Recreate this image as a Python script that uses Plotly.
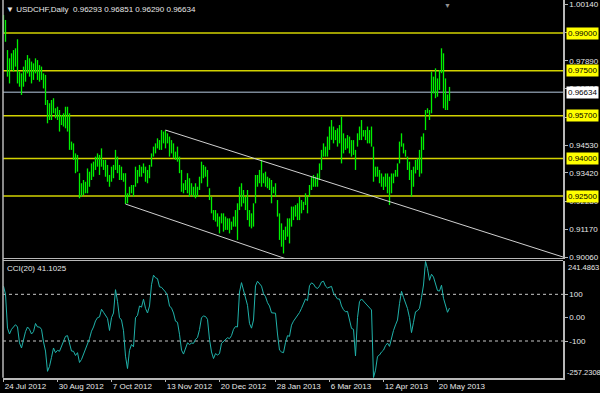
import plotly.graph_objects as go

# ---------------- data ----------------
bar_high = [
    0.9972, 0.9952, 0.9832, 0.9799, 0.9819, 0.9832, 0.9839, 0.9875, 0.9746, 0.9739,
    0.9766, 0.9792, 0.9812, 0.9799, 0.9786, 0.9779, 0.9799, 0.9792, 0.9772, 0.9766,
    0.9739, 0.9733, 0.9633, 0.9620, 0.9633, 0.9640, 0.9600, 0.9606, 0.9593, 0.9573,
    0.9580, 0.9606, 0.9606, 0.9580, 0.9467, 0.9460, 0.9420, 0.9414, 0.9341, 0.9301,
    0.9314, 0.9307, 0.9360, 0.9347, 0.9380, 0.9387, 0.9407, 0.9420, 0.9414, 0.9440,
    0.9394, 0.9394, 0.9374, 0.9334, 0.9367, 0.9374, 0.9434, 0.9407, 0.9374, 0.9367,
    0.9341, 0.9341, 0.9261, 0.9287, 0.9294, 0.9294, 0.9367, 0.9354, 0.9374, 0.9367,
    0.9380, 0.9367, 0.9354, 0.9374, 0.9420, 0.9447, 0.9460, 0.9480, 0.9473,
    0.9513, 0.9507, 0.9513, 0.9500, 0.9487, 0.9473, 0.9460, 0.9427, 0.9447, 0.9407,
    0.9354, 0.9301, 0.9314, 0.9341, 0.9321, 0.9301, 0.9287, 0.9301, 0.9287, 0.9327,
    0.9387, 0.9374, 0.9367, 0.9354, 0.9281, 0.9247, 0.9194, 0.9194, 0.9181, 0.9168,
    0.9181, 0.9181, 0.9168, 0.9161, 0.9161, 0.9148, 0.9168, 0.9194, 0.9221, 0.9287,
    0.9301, 0.9274, 0.9247, 0.9274, 0.9194, 0.9181, 0.9221, 0.9334, 0.9334, 0.9354,
    0.9394, 0.9341, 0.9347, 0.9327, 0.9321, 0.9314, 0.9287, 0.9301, 0.9234, 0.9181,
    0.9141, 0.9115, 0.9128, 0.9161, 0.9161, 0.9208, 0.9208, 0.9214, 0.9221, 0.9247,
    0.9234, 0.9227, 0.9261, 0.9247, 0.9294, 0.9327, 0.9334, 0.9327,
    0.9340, 0.9380, 0.9434, 0.9460, 0.9447, 0.9487, 0.9527, 0.9553, 0.9527, 0.9513,
    0.9520, 0.9533, 0.9566, 0.9500, 0.9480, 0.9493, 0.9487, 0.9473, 0.9473, 0.9434,
    0.9500, 0.9527, 0.9553, 0.9513, 0.9513, 0.9527, 0.9513, 0.9527, 0.9447, 0.9367,
    0.9367, 0.9354, 0.9340, 0.9327, 0.9340, 0.9340, 0.9327, 0.9340, 0.9340, 0.9354,
    0.9380, 0.9467, 0.9500, 0.9460, 0.9434, 0.9407, 0.9387, 0.9354, 0.9367, 0.9394,
    0.9400, 0.9434, 0.9487, 0.9500, 0.9593, 0.9600, 0.9593, 0.9746, 0.9726, 0.9759,
    0.9719, 0.9752, 0.9839, 0.9819, 0.9719, 0.9655, 0.96851,
]
bar_low = [
    0.9899, 0.9865, 0.9726, 0.9699, 0.9753, 0.9746, 0.9766, 0.9699, 0.9686, 0.9653,
    0.9686, 0.9706, 0.9739, 0.9726, 0.9699, 0.9713, 0.9739, 0.9713, 0.9706, 0.9713,
    0.9679, 0.9613, 0.9540, 0.9553, 0.9553, 0.9580, 0.9560, 0.9553, 0.9507, 0.9533,
    0.9527, 0.9520, 0.9507, 0.9434, 0.9434, 0.9394, 0.9341, 0.9347, 0.9241, 0.9248,
    0.9254, 0.9261, 0.9261, 0.9287, 0.9314, 0.9327, 0.9354, 0.9367, 0.9334, 0.9367,
    0.9354, 0.9327, 0.9307, 0.9287, 0.9307, 0.9321, 0.9354, 0.9341, 0.9314, 0.9314,
    0.9307, 0.9218, 0.9221, 0.9248, 0.9261, 0.9248, 0.9287, 0.9301, 0.9327, 0.9327,
    0.9341, 0.9307, 0.9301, 0.9321, 0.9367, 0.9407, 0.9420, 0.9440, 0.9434,
    0.9434, 0.9460, 0.9440, 0.9460, 0.9407, 0.9420, 0.9400, 0.9394, 0.9387, 0.9341,
    0.9267, 0.9261, 0.9274, 0.9261, 0.9247, 0.9254, 0.9247, 0.9241, 0.9247, 0.9274,
    0.9301, 0.9321, 0.9327, 0.9287, 0.9234, 0.9181, 0.9154, 0.9148, 0.9128, 0.9101,
    0.9141, 0.9108, 0.9115, 0.9115, 0.9101, 0.9115, 0.9128, 0.9128, 0.9075, 0.9194,
    0.9208, 0.9221, 0.9194, 0.9154, 0.9128, 0.9121, 0.9128, 0.9221, 0.9287, 0.9301,
    0.9287, 0.9301, 0.9287, 0.9281, 0.9274, 0.9221, 0.9261, 0.9247, 0.9168, 0.9075,
    0.9048, 0.9021, 0.9075, 0.9088, 0.9061, 0.9128, 0.9154, 0.9168, 0.9154, 0.9154,
    0.9181, 0.9194, 0.9214, 0.9181, 0.9247, 0.9274, 0.9287, 0.9287,
    0.9287, 0.9314, 0.9354, 0.9407, 0.9407, 0.9407, 0.9434, 0.9474, 0.9460, 0.9473,
    0.9447, 0.9460, 0.9380, 0.9420, 0.9434, 0.9440, 0.9420, 0.9407, 0.9414, 0.9354,
    0.9447, 0.9473, 0.9473, 0.9487, 0.9473, 0.9460, 0.9460, 0.9447, 0.9307, 0.9327,
    0.9327, 0.9301, 0.9287, 0.9274, 0.9287, 0.9261, 0.9214, 0.9261, 0.9301, 0.9327,
    0.9327, 0.9380, 0.9447, 0.9420, 0.9407, 0.9354, 0.9314, 0.9248, 0.9287, 0.9340,
    0.9354, 0.9327, 0.9340, 0.9434, 0.9513, 0.9580, 0.9553, 0.9580, 0.9659, 0.9640,
    0.9646, 0.9673, 0.9740, 0.9600, 0.9593, 0.9593, 0.96290,
]

# CCI(20), one value per bar
cci_value = [
    135, 100, -45, -70, -50, -40, -30, -40, -108, -130,
    -95, -60, -40, -50, -70, -60, -25, -40, -40, -50,
    -104, -143, -230, -209, -170, -130, -150, -140, -144, -120,
    -105, -80, -77, -108, -143, -144, -162, -150, -192, -179,
    -155, -140, -109, -90, -58, -40, -14, 0, 3, 36,
    23, 10, -3, -55, 0, 20, 120, 70, 0, -10,
    -56, -165, -218, -140, -115, -125, 0, 10, 50, 45,
    79, 40, 20, 50, 141, 182, 171, 167, 132, 130,
    121, 110, 94, 50, 41, 20, -15, -20, -71, -139,
    -156, -130, -108, -115, -109, -110, -93, -85, -51, 0,
    7, 5, -7, -93, -147, -175, -154, -160, -154, -110,
    -102, -95, -86, -90, -77, -50, -38, -40, 110, 150,
    120, 80, 53, -25, -45, -10, 136, 156, 144, 135,
    103, 90, 64, 50, 21, 20, 19, -70, -139, -147,
    -150, -107, -77, -80, -32, -15, -3, 5, 22, 40,
    59, 80, 73, 137, 149, 144, 130, 125, 135, 153,
    156, 135, 127, 132, 134, 105, 93, 80, 80, 50,
    34, 25, 27, -10, -46, -50, -164, 0, 69, 80,
    70, 60, 53, 40, 33, -257.2308, -225, -166, -160, -147,
    -139, -120, -109, -123, -83, -55, -31, -10, 60, 113,
    87, 65, 39, 0, -64, -20, 25, 30, 40, 87,
    140, 241.4863, 210, 160, 186, 174, 149, 116, 114, 139,
    83, 46, 23, 41.1025,
]

level_prices = [0.99000, 0.97500, 0.95700, 0.94000, 0.92500]
bid_price = 0.96634
price_tick_vals = [1.00140, 0.99030, 0.97890, 0.96780, 0.95640,
                   0.94530, 0.93420, 0.92280, 0.91170, 0.90060]
price_range = [0.90029, 1.00316]

date_tick_idx = [0, 27, 54, 81, 108, 136, 163, 190, 217]
date_tick_text = ["24 Jul 2012", "30 Aug 2012", "7 Oct 2012", "13 Nov 2012",
                  "20 Dec 2012", "28 Jan 2013", "6 Mar 2013", "12 Apr 2013",
                  "20 May 2013"]

cci_levels = [100, -100]
cci_tick_vals = [100, 0, -100]
cci_tick_text = ["100", "0.00", "-100"]
cci_max = 241.4863
cci_min = -257.2308

upper_line_idx = [81, 156]
upper_line_px = [0.9513, 0.9322]
lower_line_idx = [61, 140]
lower_line_px = [0.9218, 0.9003]

header_text = "USDCHF,Daily  0.96293 0.96851 0.96290 0.96634"
cci_label = "CCI(20) 41.1025"

# ---------------- figure ----------------
FONT = "Liberation Sans"
TXT = "#e8e8e8"
BORDER = "#b8b8b8"

W, H = 600, 393
ML, MR, MT, MB = 3, 37, 0, 15
PW = W - ML - MR  # 560
PH = H - MT - MB  # 378
main_dom = [(PH - 258) / PH, 1.0]
cci_dom = [(PH - 377.7) / PH, (PH - 261.3) / PH]
x_range = [-0.25, 279.75]


def px_x(px):
    return (px - ML) / PW


def px_y(py):
    return (PH - (py - MT)) / PH


fig = go.Figure()

# OHLC bars drawn as high-low strokes
bx, by = [], []
for i, (h, l) in enumerate(zip(bar_high, bar_low)):
    bx += [i, i, None]
    by += [l, h, None]
fig.add_trace(go.Scatter(x=bx, y=by, mode="lines", xaxis="x", yaxis="y",
                         line=dict(color="#00f000", width=1.3),
                         hoverinfo="skip", showlegend=False))


# trend lines (rays extended to the right)
def ray(idx, px, end=285):
    s = (px[1] - px[0]) / (idx[1] - idx[0])
    return [idx[0], end], [px[0], px[0] + s * (end - idx[0])]


for idx, px in ((upper_line_idx, upper_line_px), (lower_line_idx, lower_line_px)):
    rx, ry = ray(idx, px)
    fig.add_trace(go.Scatter(x=rx, y=ry, mode="lines", xaxis="x", yaxis="y",
                             line=dict(color="#d0d0d0", width=1),
                             hoverinfo="skip", showlegend=False))

# CCI
fig.add_trace(go.Scatter(x=list(range(len(cci_value))), y=cci_value, mode="lines",
                         xaxis="x2", yaxis="y2",
                         line=dict(color="#20b2aa", width=1),
                         hoverinfo="skip", showlegend=False))

shapes = []
for p in level_prices:
    shapes.append(dict(type="line", xref="x domain", x0=0, x1=1, yref="y", y0=p, y1=p,
                       line=dict(color="#d2d200", width=1.5), layer="below"))
shapes.append(dict(type="line", xref="x domain", x0=0, x1=1, yref="y", y0=bid_price, y1=bid_price,
                   line=dict(color="#7a8796", width=1.5), layer="below"))
for lv in cci_levels:
    shapes.append(dict(type="line", xref="x2 domain", x0=0, x1=1, yref="y2", y0=lv, y1=lv,
                       line=dict(color="#c8c8c8", width=1, dash="dot"), layer="below"))
# panel borders
shapes.append(dict(type="line", xref="paper", x0=0, x1=0, yref="paper", y0=cci_dom[0], y1=1,
                   line=dict(color=BORDER, width=1.5)))
shapes.append(dict(type="line", xref="paper", x0=0, x1=1, yref="paper",
                   y0=px_y(260.5), y1=px_y(260.5),
                   line=dict(color=BORDER, width=1)))

annotations = []
for p in level_prices:
    annotations.append(dict(xref="paper", x=px_x(566), xanchor="left",
                            yref="y", y=p, yanchor="middle", text=f"{p:.5f}",
                            showarrow=False, bgcolor="#ffff00",
                            font=dict(family=FONT, size=8, color="#000000"), borderpad=1))
annotations.append(dict(xref="paper", x=px_x(566), xanchor="left",
                        yref="y", y=bid_price, yanchor="middle", text=f"{bid_price:.5f}",
                        showarrow=False, bgcolor="#ffffff",
                        font=dict(family=FONT, size=8, color="#000000"), borderpad=1))
annotations.append(dict(xref="paper", x=px_x(566), xanchor="left",
                        yref="paper", y=px_y(267), yanchor="middle",
                        text=f"{cci_max:.4f}", showarrow=False,
                        font=dict(family=FONT, size=7.5, color=TXT)))
annotations.append(dict(xref="paper", x=px_x(565), xanchor="left",
                        yref="paper", y=px_y(372.5), yanchor="middle",
                        text=f"{cci_min:.4f}", showarrow=False,
                        font=dict(family=FONT, size=7.5, color=TXT)))
annotations.append(dict(xref="paper", x=px_x(4), xanchor="left",
                        yref="paper", y=px_y(9), yanchor="middle",
                        text="\u25bc " + header_text, showarrow=False,
                        font=dict(family=FONT, size=8, color=TXT)))
annotations.append(dict(xref="paper", x=px_x(5), xanchor="left",
                        yref="paper", y=px_y(268.5), yanchor="middle",
                        text=cci_label, showarrow=False,
                        font=dict(family=FONT, size=8, color=TXT)))
annotations.append(dict(xref="paper", x=px_x(447), xanchor="center",
                        yref="paper", y=1, yanchor="top",
                        text="\u25bc", showarrow=False,
                        font=dict(family=FONT, size=7, color="#909090")))

fig.update_layout(
    width=W, height=H,
    margin=dict(l=ML, r=MR, t=MT, b=MB, pad=0, autoexpand=False),
    paper_bgcolor="#000000", plot_bgcolor="#000000",
    showlegend=False,
    font=dict(family=FONT, size=8, color=TXT),
    xaxis=dict(domain=[0, 1], anchor="y", range=x_range, showgrid=False, zeroline=False,
               showticklabels=False, ticks="", showline=True, linecolor=BORDER, linewidth=1,
               automargin=False),
    xaxis2=dict(domain=[0, 1], anchor="y2", matches="x", range=x_range, showgrid=False,
                zeroline=False, tickmode="array", tickvals=date_tick_idx, ticktext=date_tick_text,
                ticks="outside", ticklen=3, tickcolor=BORDER, ticklabelposition="outside right",
                tickangle=0, automargin=False,
                tickfont=dict(family=FONT, size=8, color=TXT),
                showline=True, linecolor=BORDER, linewidth=1.5),
    yaxis=dict(domain=main_dom, anchor="x", side="right", range=price_range, showgrid=False,
               zeroline=False, tickmode="array", tickvals=price_tick_vals,
               ticktext=[f"{v:.5f}" for v in price_tick_vals], automargin=False,
               ticks="outside", ticklen=3, tickcolor=BORDER,
               tickfont=dict(family=FONT, size=8, color=TXT),
               showline=True, linecolor=BORDER, linewidth=1.5),
    yaxis2=dict(domain=cci_dom, anchor="x2", side="right", range=[cci_min, cci_max],
                showgrid=False, zeroline=False, tickmode="array", tickvals=cci_tick_vals,
                ticktext=cci_tick_text, ticks="outside", ticklen=3, tickcolor=BORDER,
                automargin=False,
                tickfont=dict(family=FONT, size=8, color=TXT),
                showline=True, linecolor=BORDER, linewidth=1.5),
    shapes=shapes,
    annotations=annotations,
)

fig.write_html("out.html", config={"displayModeBar": False},
               post_script="document.body.style.margin='0';document.body.style.background='#000';")
